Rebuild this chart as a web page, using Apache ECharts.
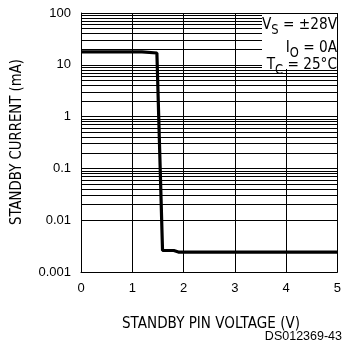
<!DOCTYPE html>
<html>
<head>
<meta charset="utf-8">
<script src="https://cdn.jsdelivr.net/npm/echarts@6/dist/echarts.min.js"></script>
<style>
html,body{margin:0;padding:0;background:#fff;}
#chart{width:344px;height:348px;}
</style>
</head>
<body>
<div id="chart"></div>
<script>
// ---- data ----
const voltage = [0, 1.19, 1.22, 1.48, 1.59, 1.81, 1.9, 5];
const current = [17.8, 17.8, 16.9, 16.9, 0.0026, 0.0026, 0.00243, 0.00243];
const xTicks = [0, 1, 2, 3, 4, 5];
const yTickLabels = ['0.001', '0.01', '0.1', '1', '10', '100'];
const decades = [0.001, 0.01, 0.1, 1, 10];
const minorMultipliers = [2, 3, 4, 5, 6, 7, 8, 9];
const xTitle = 'STANDBY PIN VOLTAGE (V)';
const yTitle = 'STANDBY CURRENT (mA)';
const noteRows = [
  ['V', 'S', ' = \u00b128V'],
  ['I', 'O', ' = 0A'],
  ['T', 'C', ' = 25\u00b0C']
];
const figId = 'DS012369-43';

// ---- build ----
const minorValues = [];
decades.forEach(d => minorMultipliers.forEach(m => minorValues.push(+(m * d).toPrecision(3))));

const titleFont = "'DejaVu Sans', sans-serif";
const mainFontSize = 16, subFontSize = 13.5;
const measureCtx = document.createElement('canvas').getContext('2d');
function textWidth(t, size) {
  measureCtx.font = size + 'px ' + titleFont;
  return measureCtx.measureText(t).width;
}
const firstRowWidth = textWidth(noteRows[0][0] + noteRows[0][2], mainFontSize) + textWidth(noteRows[0][1], subFontSize);
const sx = 75 / firstRowWidth;
const xTitleScale = 178 / textWidth(xTitle, 15);
const yTitleScale = 166 / textWidth(yTitle, 15);

const rightEdge = 337;
const rowCenters = [25, 47.5, 64.5];
const noteEls = [];
noteRows.forEach((row, i) => {
  const c = rowCenters[i];
  const w1 = textWidth(row[2], mainFontSize) * sx;
  const w2 = textWidth(row[1], subFontSize) * sx;
  const common = {fill: '#000', textAlign: 'right', textVerticalAlign: 'middle'};
  noteEls.push({type: 'text', x: rightEdge, y: c, scaleX: sx, style: Object.assign({text: row[2], font: mainFontSize + 'px ' + titleFont}, common), z: 100});
  noteEls.push({type: 'text', x: rightEdge - w1, y: c + 5.5, scaleX: sx, style: Object.assign({text: row[1], font: subFontSize + 'px ' + titleFont}, common), z: 100});
  noteEls.push({type: 'text', x: rightEdge - w1 - w2, y: c, scaleX: sx, style: Object.assign({text: row[0], font: mainFontSize + 'px ' + titleFont}, common), z: 100});
});

const chart = echarts.init(document.getElementById('chart'), null, {renderer: 'canvas'});
chart.setOption({
  animation: false,
  backgroundColor: '#fff',
  grid: {left: 81, right: 4, top: 13, bottom: 76, containLabel: false},
  xAxis: {
    type: 'value', min: xTicks[0], max: xTicks[xTicks.length - 1], interval: 1,
    axisLine: {show: true, lineStyle: {color: '#000', width: 1}},
    axisTick: {show: false},
    axisLabel: {color: '#000', fontSize: 13, fontFamily: 'Liberation Sans, Arial, sans-serif', margin: 10},
    splitLine: {show: true, lineStyle: {color: '#000', width: 1}}
  },
  yAxis: {
    type: 'log', logBase: 10, min: 0.001, max: 100, interval: 1,
    axisLine: {show: true, lineStyle: {color: '#000', width: 1}},
    axisTick: {show: false},
    axisLabel: {
      color: '#000', fontSize: 13, fontFamily: 'Liberation Sans, Arial, sans-serif', margin: 10,
      formatter: v => yTickLabels[Math.round(Math.log10(v)) + 3]
    },
    splitLine: {show: true, lineStyle: {color: '#000', width: 1}}
  },
  series: [
    {
      type: 'line', data: [[0, 1]], symbol: 'none', lineStyle: {opacity: 0}, silent: true, z: 1,
      markLine: {
        silent: true, symbol: ['none', 'none'], label: {show: false},
        lineStyle: {color: '#000', width: 1, type: 'solid'},
        emphasis: {disabled: true},
        data: minorValues.map(v => ({yAxis: v}))
      }
    },
    {
      type: 'line', data: voltage.map((x, i) => [x, current[i]]),
      symbol: 'none', z: 5,
      lineStyle: {color: '#000', width: 3.2}
    }
  ],
  graphic: [
    {type: 'rect', shape: {x: 262, y: 14, width: 75, height: 55}, style: {fill: '#fff'}, z: 50},
    ...noteEls,
    {type: 'text', x: 17, y: 142, rotation: Math.PI / 2, scaleX: yTitleScale, style: {text: yTitle, font: '15px ' + titleFont, fill: '#000', textAlign: 'center', textVerticalAlign: 'middle'}},
    {type: 'text', x: 211, y: 324, scaleX: xTitleScale, style: {text: xTitle, font: '15px ' + titleFont, fill: '#000', textAlign: 'center', textVerticalAlign: 'middle'}},
    {type: 'text', x: 342, y: 336.5, style: {text: figId, font: '12.5px Liberation Sans, Arial, sans-serif', fill: '#000', textAlign: 'right', textVerticalAlign: 'middle'}}
  ]
});
</script>
</body>
</html>
